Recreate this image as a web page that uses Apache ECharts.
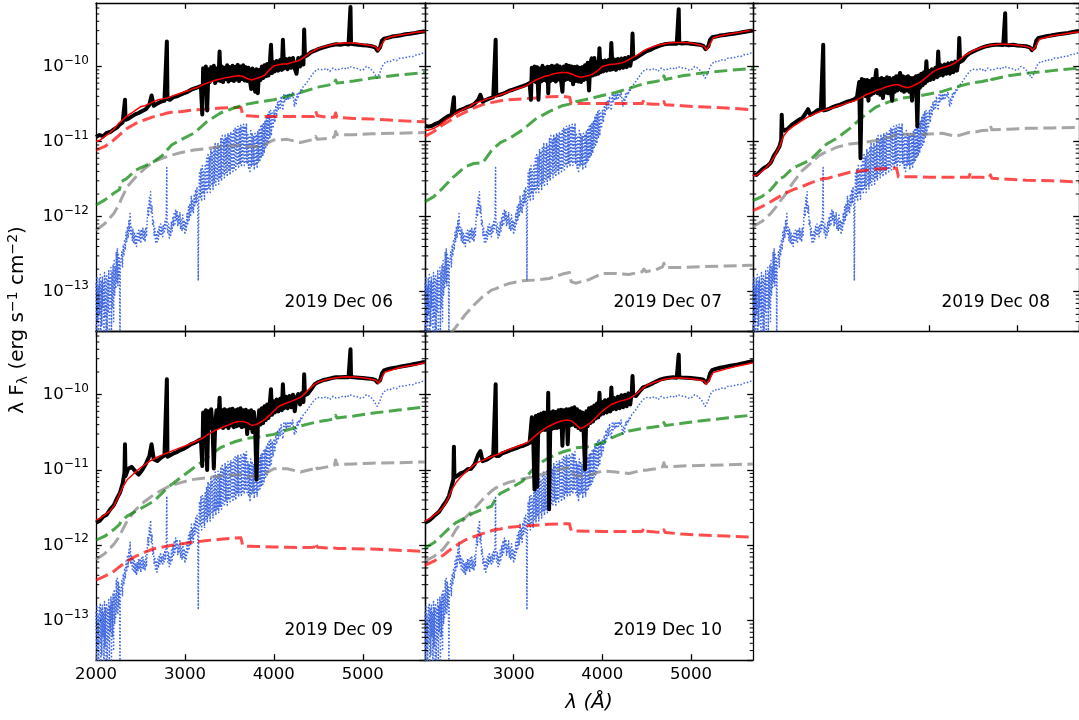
<!DOCTYPE html>
<html>
<head>
<meta charset="utf-8">
<title>SED fits, 2019 Dec 06-10</title>
<script src="https://cdn.jsdelivr.net/npm/echarts@6.0.0/dist/echarts.min.js"></script>
<style>
  html, body { margin: 0; padding: 0; background: #ffffff; }
  #chart { width: 1079px; height: 720px; }
</style>
</head>
<body>
<div id="chart"></div>
<script>
// ---------------------------------------------------------------------------
// Data: wavelength in Angstrom, lambda*F_lambda in erg s^-1 cm^-2
// ---------------------------------------------------------------------------
const nightLabels = ['2019 Dec 06', '2019 Dec 07', '2019 Dec 08', '2019 Dec 09', '2019 Dec 10'];

const xTickValues = [2000, 3000, 4000, 5000];
const yMajorTickValues = [1e-13, 1e-12, 1e-11, 1e-10];
const yMinorTickValues = [
  4e-14, 5e-14, 6e-14, 7e-14, 8e-14, 9e-14,
  2e-13, 3e-13, 4e-13, 5e-13, 6e-13, 7e-13, 8e-13, 9e-13,
  2e-12, 3e-12, 4e-12, 5e-12, 6e-12, 7e-12, 8e-12, 9e-12,
  2e-11, 3e-11, 4e-11, 5e-11, 6e-11, 7e-11, 8e-11, 9e-11,
  2e-10, 3e-10, 4e-10, 5e-10, 6e-10
];

// observed spectra share one wavelength grid
const specWave = [
  2000, 2040, 2080, 2120, 2160, 2200, 2240, 2270, 2300, 2320,
  2326, 2332, 2360, 2400, 2440, 2480, 2520, 2560, 2600, 2625,
  2650, 2690, 2730, 2770, 2790, 2797, 2804, 2830, 2870, 2910,
  2950, 2990, 3030, 3070, 3110, 3150, 3180, 3195, 3205, 3220,
  3235, 3250, 3265, 3280, 3295, 3310, 3325, 3340, 3355, 3370,
  3383, 3390, 3400, 3415, 3430, 3445, 3460, 3475, 3490, 3505,
  3520, 3535, 3550, 3565, 3580, 3595, 3610, 3625, 3640, 3655,
  3670, 3685, 3700, 3715, 3730, 3745, 3760, 3775, 3790, 3805,
  3820, 3835, 3850, 3865, 3880, 3895, 3910, 3925, 3940, 3955,
  3968, 3980, 3995, 4010, 4030, 4050, 4070, 4090, 4102, 4115,
  4135, 4155, 4175, 4195, 4215, 4235, 4255, 4275, 4295, 4315,
  4333, 4341, 4350, 4380, 4420, 4460, 4500, 4550, 4600, 4650,
  4700, 4750, 4800, 4840, 4856, 4862, 4868, 4900, 4950, 5000,
  5050, 5100, 5140, 5165, 5180, 5195, 5215, 5240, 5280, 5330,
  5380, 5430, 5480, 5530, 5580, 5630, 5680, 5700
];

const obsDec06 = [
  1.15e-11, 1.22e-11, 1.18e-11, 1.3e-11, 1.34e-11, 1.45e-11, 1.55e-11, 1.7e-11, 1.8e-11, 1.9e-11,
  3.6e-11, 1.95e-11, 2.0e-11, 2.15e-11, 2.3e-11, 2.4e-11, 2.55e-11, 2.7e-11, 3.1e-11, 4.1e-11,
  3.0e-11, 3.2e-11, 3.4e-11, 3.5e-11, 3.6e-11, 2.15e-10, 3.7e-11, 3.6e-11, 3.9e-11, 4.0e-11,
  4.2e-11, 4.4e-11, 4.6e-11, 4.9e-11, 5.1e-11, 5.3e-11, 5.5e-11, 2.3e-11, 9.5e-11, 6.4e-11,
  1.0e-10, 2.6e-11, 9.2e-11, 6.2e-11, 9.8e-11, 6.6e-11, 1.02e-10, 6.0e-11, 9.4e-11, 6.5e-11,
  1.0e-10, 1.58e-10, 6.4e-11, 1.0e-10, 6.2e-11, 9.6e-11, 6.8e-11, 1.04e-10, 6.3e-11, 9.8e-11,
  6.6e-11, 1.02e-10, 6.4e-11, 9.9e-11, 6.7e-11, 1.05e-10, 6.4e-11, 1.0e-10, 6.8e-11, 1.04e-10,
  6.5e-11, 9.8e-11, 6.4e-11, 9.6e-11, 6.6e-11, 5.0e-11, 9.4e-11, 6.2e-11, 4.6e-11, 9.2e-11,
  4.4e-11, 9.0e-11, 6.6e-11, 1.0e-10, 7.0e-11, 1.04e-10, 7.4e-11, 1.08e-10, 7.6e-11, 1.1e-10,
  1.94e-10, 8.2e-11, 1.15e-10, 8.6e-11, 1.18e-10, 8.8e-11, 1.22e-10, 9.0e-11, 2.27e-10, 9.4e-11,
  1.26e-10, 9.2e-11, 1.28e-10, 9.6e-11, 1.3e-10, 9.4e-11, 8.0e-11, 1.3e-10, 1.0e-10, 1.34e-10,
  1.06e-10, 3.1e-10, 1.35e-10, 1.42e-10, 1.55e-10, 1.62e-10, 1.7e-10, 1.78e-10, 1.85e-10, 1.92e-10,
  1.98e-10, 1.95e-10, 2.0e-10, 1.96e-10, 2.0e-10, 6.2e-10, 2.0e-10, 1.97e-10, 1.95e-10, 1.92e-10,
  1.9e-10, 1.86e-10, 1.8e-10, 1.62e-10, 1.55e-10, 1.8e-10, 2.2e-10, 2.35e-10, 2.4e-10, 2.5e-10,
  2.55e-10, 2.6e-10, 2.68e-10, 2.72e-10, 2.78e-10, 2.85e-10, 2.92e-10, 2.95e-10
];

const obsDec07 = [
  1.62e-11, 1.58e-11, 1.62e-11, 1.72e-11, 1.8e-11, 1.95e-11, 2.1e-11, 2.2e-11, 2.27e-11, 2.4e-11,
  3.9e-11, 2.4e-11, 2.5e-11, 2.65e-11, 2.75e-11, 2.9e-11, 3.0e-11, 3.2e-11, 3.6e-11, 4.2e-11,
  3.4e-11, 3.6e-11, 3.75e-11, 3.9e-11, 3.9e-11, 2.27e-10, 4.1e-11, 4.15e-11, 4.3e-11, 4.5e-11,
  4.75e-11, 4.9e-11, 5.1e-11, 5.3e-11, 5.5e-11, 5.75e-11, 6.0e-11, 3.6e-11, 9.6e-11, 6.4e-11,
  1.0e-10, 6.2e-11, 9.8e-11, 3.6e-11, 9.4e-11, 6.3e-11, 1.02e-10, 6.6e-11, 9.6e-11, 6.4e-11,
  9.9e-11, 4.4e-11, 9.8e-11, 6.4e-11, 1.02e-10, 6.6e-11, 1.0e-10, 6.3e-11, 1.04e-10, 6.7e-11,
  1.0e-10, 6.5e-11, 4.6e-11, 1.0e-10, 6.6e-11, 1.05e-10, 6.8e-11, 1.02e-10, 6.6e-11, 1.0e-10,
  5.8e-11, 9.8e-11, 6.4e-11, 1.0e-10, 6.3e-11, 9.6e-11, 6.2e-11, 9.8e-11, 6.6e-11, 1.04e-10,
  6.8e-11, 1.12e-10, 4.8e-11, 1.1e-10, 1.28e-10, 7.6e-11, 1.3e-10, 7.8e-11, 1.15e-10, 8.0e-11,
  1.75e-10, 8.4e-11, 1.18e-10, 8.6e-11, 1.2e-10, 8.8e-11, 1.22e-10, 9.0e-11, 2.05e-10, 9.2e-11,
  1.24e-10, 9.0e-11, 1.26e-10, 9.4e-11, 1.28e-10, 9.6e-11, 1.3e-10, 9.8e-11, 1.34e-10, 1.02e-10,
  1.36e-10, 2.75e-10, 1.25e-10, 1.3e-10, 1.4e-10, 1.5e-10, 1.6e-10, 1.68e-10, 1.8e-10, 1.9e-10,
  1.97e-10, 2.0e-10, 2.02e-10, 2.0e-10, 2.05e-10, 5.8e-10, 2.05e-10, 2.02e-10, 2.05e-10, 2.0e-10,
  1.98e-10, 1.95e-10, 1.88e-10, 1.7e-10, 1.6e-10, 1.85e-10, 2.25e-10, 2.45e-10, 2.5e-10, 2.58e-10,
  2.62e-10, 2.68e-10, 2.72e-10, 2.78e-10, 2.85e-10, 2.92e-10, 2.98e-10, 3.0e-10
];

const obsDec08 = [
  3.7e-12, 3.6e-12, 4.0e-12, 4.4e-12, 4.7e-12, 5.2e-12, 6.6e-12, 7.4e-12, 8.6e-12, 1.05e-11,
  2.27e-11, 1.5e-11, 1.4e-11, 1.5e-11, 1.67e-11, 1.8e-11, 1.95e-11, 2.05e-11, 2.4e-11, 2.7e-11,
  2.27e-11, 2.4e-11, 2.6e-11, 2.7e-11, 2.65e-11, 1.94e-10, 2.6e-11, 2.65e-11, 2.75e-11, 2.9e-11,
  3.0e-11, 3.1e-11, 3.25e-11, 3.4e-11, 3.5e-11, 3.65e-11, 3.9e-11, 4.0e-11, 6.2e-11, 6.0e-12,
  6.8e-11, 4.2e-11, 6.6e-11, 4.0e-11, 6.6e-11, 3.5e-11, 6.4e-11, 4.2e-11, 6.8e-11, 4.4e-11,
  6.6e-11, 7.4e-11, 9.0e-11, 4.4e-11, 6.8e-11, 4.2e-11, 7.0e-11, 3.8e-11, 6.8e-11, 4.5e-11,
  7.2e-11, 4.4e-11, 7.0e-11, 4.6e-11, 3.5e-11, 7.0e-11, 4.6e-11, 7.4e-11, 4.8e-11, 7.2e-11,
  8.2e-11, 4.8e-11, 7.4e-11, 4.6e-11, 7.2e-11, 4.8e-11, 7.4e-11, 4.6e-11, 7.0e-11, 3.5e-11,
  7.0e-11, 4.8e-11, 7.4e-11, 1.6e-11, 7.6e-11, 5.2e-11, 8.0e-11, 5.6e-11, 8.4e-11, 6.0e-11,
  1.17e-10, 6.4e-11, 8.8e-11, 6.6e-11, 9.2e-11, 6.8e-11, 9.6e-11, 7.2e-11, 1.58e-10, 7.6e-11,
  1.04e-10, 7.6e-11, 1.06e-10, 8.0e-11, 1.1e-10, 8.0e-11, 1.12e-10, 8.4e-11, 1.16e-10, 8.8e-11,
  1.2e-10, 2.4e-10, 1.15e-10, 1.2e-10, 1.38e-10, 1.5e-10, 1.58e-10, 1.68e-10, 1.78e-10, 1.86e-10,
  1.92e-10, 1.95e-10, 1.95e-10, 1.93e-10, 1.95e-10, 5.1e-10, 1.95e-10, 1.92e-10, 1.94e-10, 1.9e-10,
  1.88e-10, 1.86e-10, 1.8e-10, 1.65e-10, 1.58e-10, 1.78e-10, 2.2e-10, 2.4e-10, 2.45e-10, 2.52e-10,
  2.58e-10, 2.65e-10, 2.7e-10, 2.75e-10, 2.8e-10, 2.88e-10, 2.95e-10, 2.98e-10
];

const obsDec09 = [
  2.0e-12, 2.1e-12, 2.4e-12, 2.55e-12, 3.0e-12, 3.4e-12, 4.3e-12, 5.0e-12, 6.6e-12, 9.2e-12,
  2.2e-11, 8.3e-12, 1.03e-11, 1.1e-11, 9.7e-12, 8.7e-12, 1.0e-11, 1.2e-11, 1.53e-11, 2.2e-11,
  1.38e-11, 1.32e-11, 1.45e-11, 1.56e-11, 1.56e-11, 1.6e-10, 1.5e-11, 1.56e-11, 1.66e-11, 1.73e-11,
  1.84e-11, 1.92e-11, 2.05e-11, 2.2e-11, 2.3e-11, 2.45e-11, 2.55e-11, 1.13e-11, 5.8e-11, 3.6e-11,
  6.2e-11, 1.0e-11, 6.0e-11, 3.6e-11, 6.4e-11, 3.8e-11, 1.05e-11, 3.8e-11, 6.2e-11, 3.7e-11,
  6.4e-11, 9.1e-11, 3.8e-11, 6.2e-11, 3.6e-11, 6.4e-11, 3.8e-11, 6.2e-11, 3.6e-11, 6.4e-11,
  3.9e-11, 6.5e-11, 3.7e-11, 6.2e-11, 3.8e-11, 6.4e-11, 3.9e-11, 6.6e-11, 3.7e-11, 6.2e-11,
  3.8e-11, 6.3e-11, 3.0e-11, 6.0e-11, 3.6e-11, 6.2e-11, 3.2e-11, 5.9e-11, 3.6e-11, 7.5e-12,
  3.8e-11, 6.2e-11, 4.0e-11, 6.6e-11, 4.2e-11, 7.0e-11, 4.6e-11, 7.4e-11, 4.9e-11, 7.8e-11,
  1.18e-10, 5.4e-11, 8.2e-11, 5.8e-11, 8.6e-11, 6.0e-11, 8.8e-11, 6.2e-11, 1.37e-10, 6.6e-11,
  9.4e-11, 6.6e-11, 9.6e-11, 6.8e-11, 1.0e-10, 6.0e-11, 9.2e-11, 1.02e-10, 7.4e-11, 1.05e-10,
  8.0e-11, 1.86e-10, 9.8e-11, 1.02e-10, 1.18e-10, 1.38e-10, 1.47e-10, 1.55e-10, 1.6e-10, 1.66e-10,
  1.7e-10, 1.7e-10, 1.72e-10, 1.7e-10, 1.72e-10, 4.0e-10, 1.72e-10, 1.7e-10, 1.68e-10, 1.66e-10,
  1.64e-10, 1.62e-10, 1.57e-10, 1.45e-10, 1.38e-10, 1.55e-10, 1.9e-10, 2.1e-10, 2.18e-10, 2.25e-10,
  2.3e-10, 2.36e-10, 2.42e-10, 2.48e-10, 2.55e-10, 2.62e-10, 2.7e-10, 2.72e-10
];

const obsDec10 = [
  2.0e-12, 2.1e-12, 2.3e-12, 2.55e-12, 2.8e-12, 3.3e-12, 3.85e-12, 4.5e-12, 6.1e-12, 7.5e-12,
  2.04e-11, 7.9e-12, 8.3e-12, 9.0e-12, 9.4e-12, 1.02e-11, 1.04e-11, 1.19e-11, 1.6e-11, 1.78e-11,
  1.31e-11, 1.36e-11, 1.45e-11, 1.56e-11, 1.56e-11, 1.37e-10, 1.53e-11, 1.53e-11, 1.66e-11, 1.73e-11,
  1.8e-11, 1.88e-11, 1.95e-11, 2.04e-11, 2.1e-11, 2.2e-11, 2.3e-11, 2.4e-11, 5.0e-11, 3.0e-11,
  5.5e-12, 5.2e-11, 6.0e-12, 5.4e-11, 3.2e-11, 5.6e-11, 3.4e-11, 5.8e-11, 3.4e-11, 5.8e-11,
  3.6e-11, 1.06e-10, 3.0e-12, 5.8e-11, 3.5e-11, 6.0e-11, 3.6e-11, 5.9e-11, 3.6e-11, 6.2e-11,
  3.7e-11, 6.3e-11, 2.1e-11, 6.2e-11, 3.8e-11, 6.4e-11, 2.2e-11, 6.4e-11, 3.9e-11, 6.6e-11,
  4.0e-11, 6.8e-11, 3.8e-11, 6.4e-11, 3.6e-11, 6.0e-11, 3.4e-11, 5.8e-11, 3.2e-11, 1.02e-11,
  6.0e-11, 3.8e-11, 6.6e-11, 4.2e-11, 6.8e-11, 4.4e-11, 7.2e-11, 4.8e-11, 7.6e-11, 5.0e-11,
  1.06e-10, 5.4e-11, 8.0e-11, 5.6e-11, 8.4e-11, 5.8e-11, 8.6e-11, 6.0e-11, 1.24e-10, 6.4e-11,
  9.0e-11, 6.4e-11, 9.4e-11, 6.6e-11, 9.8e-11, 6.8e-11, 1.0e-10, 7.0e-11, 1.04e-10, 7.4e-11,
  1.08e-10, 1.77e-10, 9.8e-11, 9.6e-11, 1.1e-10, 1.25e-10, 1.3e-10, 1.38e-10, 1.48e-10, 1.58e-10,
  1.64e-10, 1.68e-10, 1.7e-10, 1.68e-10, 1.7e-10, 3.4e-10, 1.7e-10, 1.69e-10, 1.68e-10, 1.66e-10,
  1.64e-10, 1.62e-10, 1.58e-10, 1.45e-10, 1.4e-10, 1.55e-10, 1.9e-10, 2.12e-10, 2.2e-10, 2.28e-10,
  2.34e-10, 2.4e-10, 2.46e-10, 2.52e-10, 2.6e-10, 2.68e-10, 2.76e-10, 2.8e-10
];

// total model fluxes share one wavelength grid
const modelWave = [
  2000, 2050, 2100, 2150, 2200, 2250, 2300, 2350, 2400, 2450,
  2500, 2550, 2600, 2650, 2700, 2750, 2800, 2850, 2900, 2950,
  3000, 3050, 3100, 3150, 3200, 3250, 3300, 3350, 3400, 3450,
  3500, 3550, 3600, 3650, 3700, 3750, 3800, 3850, 3900, 3950,
  4000, 4050, 4100, 4150, 4200, 4250, 4300, 4350, 4400, 4450,
  4500, 4600, 4700, 4800, 4900, 5000, 5100, 5150, 5175, 5200,
  5250, 5300, 5400, 5500, 5600, 5700
];

const modelDec06 = [
  1.0e-11, 1.05e-11, 1.17e-11, 1.29e-11, 1.46e-11, 1.72e-11, 1.95e-11, 2.2e-11, 2.4e-11, 2.65e-11,
  2.9e-11, 3.0e-11, 3.2e-11, 3.4e-11, 3.6e-11, 3.7e-11, 3.8e-11, 4.0e-11, 4.2e-11, 4.4e-11,
  4.65e-11, 4.8e-11, 5.1e-11, 5.3e-11, 5.7e-11, 6.0e-11, 6.3e-11, 6.6e-11, 6.8e-11, 7.05e-11,
  7.2e-11, 7.4e-11, 7.5e-11, 7.4e-11, 6.9e-11, 6.6e-11, 6.9e-11, 7.2e-11, 7.7e-11, 9.0e-11,
  1.02e-10, 1.05e-10, 1.08e-10, 1.08e-10, 1.13e-10, 1.17e-10, 1.23e-10, 1.36e-10, 1.5e-10, 1.63e-10,
  1.74e-10, 1.89e-10, 2.0e-10, 2.05e-10, 2.05e-10, 1.98e-10, 1.89e-10, 1.81e-10, 1.63e-10, 1.85e-10,
  2.3e-10, 2.45e-10, 2.6e-10, 2.7e-10, 2.85e-10, 2.93e-10
];

const modelDec07 = [
  1.4e-11, 1.43e-11, 1.5e-11, 1.62e-11, 1.8e-11, 1.99e-11, 2.15e-11, 2.4e-11, 2.55e-11, 2.75e-11,
  2.9e-11, 3.2e-11, 3.35e-11, 3.5e-11, 3.7e-11, 3.8e-11, 4.0e-11, 4.2e-11, 4.4e-11, 4.65e-11,
  4.9e-11, 5.1e-11, 5.3e-11, 5.6e-11, 6.1e-11, 6.6e-11, 7.0e-11, 7.4e-11, 7.6e-11, 8.0e-11,
  8.2e-11, 8.3e-11, 8.3e-11, 8.0e-11, 7.5e-11, 7.2e-11, 7.35e-11, 7.6e-11, 8.0e-11, 8.8e-11,
  1.0e-10, 1.04e-10, 1.07e-10, 1.08e-10, 1.1e-10, 1.15e-10, 1.23e-10, 1.33e-10, 1.43e-10, 1.57e-10,
  1.7e-10, 1.89e-10, 2.0e-10, 2.09e-10, 2.09e-10, 2.05e-10, 1.93e-10, 1.85e-10, 1.67e-10, 1.85e-10,
  2.39e-10, 2.5e-10, 2.67e-10, 2.78e-10, 2.93e-10, 3.05e-10
];

const modelDec08 = [
  3.5e-12, 3.6e-12, 4.0e-12, 4.5e-12, 5.2e-12, 6.6e-12, 8.5e-12, 1.2e-11, 1.42e-11, 1.58e-11,
  1.72e-11, 1.88e-11, 2.05e-11, 2.2e-11, 2.35e-11, 2.48e-11, 2.6e-11, 2.7e-11, 2.8e-11, 2.95e-11,
  3.05e-11, 3.2e-11, 3.35e-11, 3.5e-11, 3.7e-11, 4.0e-11, 4.3e-11, 4.5e-11, 4.8e-11, 5.0e-11,
  5.3e-11, 5.5e-11, 5.7e-11, 5.7e-11, 5.4e-11, 5.2e-11, 5.4e-11, 5.8e-11, 6.2e-11, 6.9e-11,
  7.7e-11, 8.6e-11, 9.2e-11, 9.6e-11, 1.0e-10, 1.05e-10, 1.13e-10, 1.25e-10, 1.39e-10, 1.5e-10,
  1.63e-10, 1.8e-10, 1.93e-10, 1.97e-10, 1.97e-10, 1.93e-10, 1.85e-10, 1.77e-10, 1.63e-10, 1.8e-10,
  2.3e-10, 2.4e-10, 2.57e-10, 2.67e-10, 2.78e-10, 2.9e-10
];

const modelDec09 = [
  2.16e-12, 2.3e-12, 2.55e-12, 2.8e-12, 3.3e-12, 4.4e-12, 5.9e-12, 7.4e-12, 8.4e-12, 9.5e-12,
  1.07e-11, 1.18e-11, 1.3e-11, 1.4e-11, 1.5e-11, 1.6e-11, 1.68e-11, 1.78e-11, 1.88e-11, 1.98e-11,
  2.08e-11, 2.2e-11, 2.33e-11, 2.48e-11, 2.65e-11, 2.9e-11, 3.15e-11, 3.4e-11, 3.6e-11, 3.8e-11,
  4.0e-11, 4.25e-11, 4.4e-11, 4.4e-11, 4.25e-11, 3.9e-11, 4.0e-11, 4.3e-11, 4.7e-11, 5.3e-11,
  6.06e-11, 6.9e-11, 7.4e-11, 7.8e-11, 8.2e-11, 8.7e-11, 9.2e-11, 1.04e-10, 1.2e-10, 1.36e-10,
  1.47e-10, 1.6e-10, 1.68e-10, 1.73e-10, 1.72e-10, 1.68e-10, 1.6e-10, 1.55e-10, 1.41e-10, 1.57e-10,
  2.0e-10, 2.08e-10, 2.26e-10, 2.4e-10, 2.5e-10, 2.66e-10
];

const modelDec10 = [
  2.1e-12, 2.25e-12, 2.5e-12, 2.75e-12, 3.15e-12, 3.9e-12, 5.4e-12, 6.8e-12, 8.0e-12, 9.2e-12,
  1.04e-11, 1.17e-11, 1.27e-11, 1.34e-11, 1.42e-11, 1.5e-11, 1.58e-11, 1.67e-11, 1.77e-11, 1.88e-11,
  1.97e-11, 2.07e-11, 2.18e-11, 2.3e-11, 2.55e-11, 2.88e-11, 3.2e-11, 3.54e-11, 3.83e-11, 4.07e-11,
  4.33e-11, 4.5e-11, 4.6e-11, 4.5e-11, 4.04e-11, 3.54e-11, 3.75e-11, 4.1e-11, 4.6e-11, 5.3e-11,
  6.06e-11, 6.7e-11, 7.4e-11, 7.8e-11, 8.2e-11, 8.5e-11, 8.85e-11, 9.6e-11, 1.06e-10, 1.2e-10,
  1.33e-10, 1.47e-10, 1.6e-10, 1.66e-10, 1.66e-10, 1.63e-10, 1.57e-10, 1.52e-10, 1.37e-10, 1.52e-10,
  1.96e-10, 2.04e-10, 2.2e-10, 2.36e-10, 2.5e-10, 2.66e-10
];

// fit components (green dashed = comp1, red dashed = comp2, grey dashed = comp3)
const compWave = [
  2000, 2100, 2200, 2265, 2280, 2350, 2450, 2550, 2650, 2750,
  2800, 2850, 2950, 3100, 3250, 3400, 3550, 3630, 3650, 3700,
  3850, 4000, 4150, 4300, 4450, 4470, 4490, 4600, 4680, 4695,
  4710, 4900, 5100, 5400, 5700
];

const comp1Dec06 = [
  1.43e-12, 1.67e-12, 2.05e-12, 2.3e-12, 2.9e-12, 3.25e-12, 4.2e-12, 4.75e-12, 5.4e-12, 6.6e-12,
  7.7e-12, 9.0e-12, 1.05e-11, 1.29e-11, 1.85e-11, 2.4e-11, 2.8e-11, 3.0e-11, 3.05e-11, 3.15e-11,
  3.4e-11, 3.6e-11, 4.0e-11, 4.5e-11, 5.1e-11, 5.2e-11, 5.3e-11, 5.6e-11, 5.9e-11, 6.6e-11,
  6.0e-11, 6.4e-11, 7.0e-11, 7.7e-11, 8.3e-11
];
const comp2Dec06 = [
  7.7e-12, 8.6e-12, 1.05e-11, 1.23e-11, 1.29e-11, 1.5e-11, 1.75e-11, 1.95e-11, 2.15e-11, 2.3e-11,
  2.4e-11, 2.45e-11, 2.5e-11, 2.65e-11, 2.7e-11, 2.8e-11, 2.85e-11, 2.85e-11, 2.27e-11, 2.2e-11,
  2.15e-11, 2.15e-11, 2.15e-11, 2.15e-11, 2.15e-11, 2.55e-11, 2.2e-11, 2.1e-11, 2.1e-11, 2.4e-11,
  2.1e-11, 2.03e-11, 2.0e-11, 1.9e-11, 1.83e-11
];
const comp3Dec06 = [
  6.6e-13, 8.1e-13, 1.1e-12, 1.5e-12, 1.67e-12, 2.5e-12, 3.4e-12, 4.4e-12, 5.4e-12, 6.0e-12,
  6.3e-12, 6.6e-12, 7.1e-12, 7.7e-12, 8.1e-12, 8.6e-12, 8.8e-12, 9.0e-12, 8.6e-12, 8.6e-12,
  8.6e-12, 1.05e-11, 1.07e-11, 9.7e-12, 1.07e-11, 1.17e-11, 1.07e-11, 1.1e-11, 1.15e-11, 1.36e-11,
  1.23e-11, 1.23e-11, 1.27e-11, 1.29e-11, 1.32e-11
];

const comp1Dec07 = [
  1.58e-12, 1.85e-12, 2.4e-12, 2.9e-12, 3.1e-12, 3.6e-12, 4.6e-12, 5.1e-12, 5.2e-12, 7.6e-12,
  8.6e-12, 9.7e-12, 1.1e-11, 1.43e-11, 2.0e-11, 2.5e-11, 3.0e-11, 3.15e-11, 3.2e-11, 3.4e-11,
  3.7e-11, 4.1e-11, 4.5e-11, 5.1e-11, 5.8e-11, 5.9e-11, 6.0e-11, 6.3e-11, 6.6e-11, 7.5e-11,
  6.7e-11, 7.5e-11, 8.1e-11, 8.8e-11, 9.4e-11
];
const comp2Dec07 = [
  1.17e-11, 1.36e-11, 1.67e-11, 1.85e-11, 1.9e-11, 2.15e-11, 2.45e-11, 2.8e-11, 3.1e-11, 3.3e-11,
  3.4e-11, 3.5e-11, 3.6e-11, 3.7e-11, 3.8e-11, 3.95e-11, 4.0e-11, 3.9e-11, 3.2e-11, 3.2e-11,
  3.2e-11, 3.2e-11, 3.2e-11, 3.2e-11, 3.2e-11, 3.6e-11, 3.2e-11, 3.15e-11, 3.12e-11, 3.4e-11,
  3.1e-11, 3.0e-11, 2.9e-11, 2.8e-11, 2.65e-11
];
const comp3Dec07 = [
  6e-15, 1.1e-14, 1.9e-14, 2.5e-14, 2.7e-14, 3.4e-14, 4.9e-14, 6.6e-14, 8.6e-14, 1.05e-13,
  1.1e-13, 1.17e-13, 1.29e-13, 1.4e-13, 1.43e-13, 1.5e-13, 1.72e-13, 1.8e-13, 1.36e-13, 1.3e-13,
  1.45e-13, 1.75e-13, 1.75e-13, 1.7e-13, 1.85e-13, 2.0e-13, 1.85e-13, 1.95e-13, 2.15e-13, 2.4e-13,
  2.1e-13, 2.1e-13, 2.15e-13, 2.2e-13, 2.25e-13
];

const comp1Dec08 = [
  1.63e-12, 1.85e-12, 2.27e-12, 2.8e-12, 3.1e-12, 3.4e-12, 4.4e-12, 5.0e-12, 5.7e-12, 7.4e-12,
  8.6e-12, 9.5e-12, 1.1e-11, 1.5e-11, 2.15e-11, 2.9e-11, 3.4e-11, 3.6e-11, 3.7e-11, 3.8e-11,
  4.0e-11, 4.3e-11, 4.65e-11, 5.3e-11, 5.9e-11, 6.0e-11, 6.05e-11, 6.3e-11, 6.6e-11, 7.2e-11,
  6.7e-11, 7.5e-11, 8.1e-11, 8.8e-11, 9.5e-11
];
const comp2Dec08 = [
  1.2e-12, 1.36e-12, 1.58e-12, 1.75e-12, 1.8e-12, 2.0e-12, 2.27e-12, 2.5e-12, 2.8e-12, 3.1e-12,
  3.2e-12, 3.25e-12, 3.5e-12, 3.9e-12, 4.1e-12, 4.3e-12, 4.4e-12, 4.4e-12, 3.4e-12, 3.4e-12,
  3.4e-12, 3.35e-12, 3.35e-12, 3.35e-12, 3.35e-12, 3.9e-12, 3.35e-12, 3.35e-12, 3.3e-12, 3.6e-12,
  3.25e-12, 3.15e-12, 3.05e-12, 3.0e-12, 2.9e-12
];
const comp3Dec08 = [
  7.4e-13, 8.6e-13, 1.1e-12, 1.36e-12, 1.47e-12, 1.85e-12, 2.8e-12, 4.0e-12, 5.1e-12, 6.5e-12,
  7.0e-12, 7.4e-12, 8.4e-12, 9.3e-12, 9.7e-12, 1.03e-11, 1.14e-11, 1.26e-11, 1.29e-11, 1.26e-11,
  1.23e-11, 1.26e-11, 1.29e-11, 1.17e-11, 1.32e-11, 1.36e-11, 1.32e-11, 1.4e-11, 1.42e-11, 1.62e-11,
  1.44e-11, 1.46e-11, 1.5e-11, 1.52e-11, 1.54e-11
];

const comp1Dec09 = [
  1.17e-12, 1.32e-12, 1.62e-12, 1.89e-12, 2.1e-12, 2.44e-12, 2.85e-12, 3.3e-12, 3.85e-12, 5.0e-12,
  5.8e-12, 6.4e-12, 7.9e-12, 1.07e-11, 1.46e-11, 1.98e-11, 2.35e-11, 2.5e-11, 2.55e-11, 2.63e-11,
  2.77e-11, 2.97e-11, 3.39e-11, 3.84e-11, 4.25e-11, 4.3e-11, 4.35e-11, 4.56e-11, 4.8e-11, 5.3e-11,
  4.9e-11, 5.2e-11, 5.65e-11, 6.25e-11, 6.85e-11
];
const comp2Dec09 = [
  3.45e-13, 3.9e-13, 4.5e-13, 5.2e-13, 5.4e-13, 6.15e-13, 7.2e-13, 8.1e-13, 9.0e-13, 9.5e-13,
  9.7e-13, 1.0e-12, 1.04e-12, 1.1e-12, 1.16e-12, 1.2e-12, 1.25e-12, 1.26e-12, 9.9e-13, 9.7e-13,
  9.6e-13, 9.5e-13, 9.4e-13, 9.3e-13, 9.4e-13, 1.08e-12, 9.4e-13, 9.2e-13, 9.2e-13, 9.7e-13,
  9.1e-13, 9.0e-13, 8.9e-13, 8.6e-13, 8.3e-13
];
const comp3Dec09 = [
  6.5e-13, 7.8e-13, 1.03e-12, 1.32e-12, 1.45e-12, 2.1e-12, 3.0e-12, 3.85e-12, 4.7e-12, 5.5e-12,
  5.9e-12, 6.2e-12, 6.8e-12, 7.5e-12, 7.9e-12, 8.3e-12, 8.6e-12, 8.7e-12, 8.3e-12, 8.2e-12,
  8.3e-12, 1.04e-11, 1.04e-11, 9.4e-12, 1.04e-11, 1.13e-11, 1.04e-11, 1.1e-11, 1.15e-11, 1.36e-11,
  1.18e-11, 1.2e-11, 1.23e-11, 1.25e-11, 1.28e-11
];

const comp1Dec10 = [
  9.2e-13, 1.08e-12, 1.39e-12, 1.65e-12, 1.75e-12, 2.0e-12, 2.3e-12, 2.7e-12, 3.0e-12, 3.3e-12,
  4.2e-12, 4.9e-12, 5.6e-12, 7.1e-12, 1.13e-11, 1.46e-11, 1.73e-11, 1.84e-11, 1.88e-11, 1.97e-11,
  2.03e-11, 2.3e-11, 2.82e-11, 3.3e-11, 3.55e-11, 3.57e-11, 3.6e-11, 3.75e-11, 3.85e-11, 4.25e-11,
  3.9e-11, 4.16e-11, 4.47e-11, 4.9e-11, 5.37e-11
];
const comp2Dec10 = [
  5.4e-13, 6.15e-13, 7.3e-13, 8.4e-13, 8.8e-13, 9.9e-13, 1.17e-12, 1.3e-12, 1.43e-12, 1.56e-12,
  1.62e-12, 1.65e-12, 1.73e-12, 1.8e-12, 1.85e-12, 1.9e-12, 1.93e-12, 1.93e-12, 1.56e-12, 1.55e-12,
  1.54e-12, 1.53e-12, 1.53e-12, 1.53e-12, 1.53e-12, 1.7e-12, 1.54e-12, 1.5e-12, 1.48e-12, 1.6e-12,
  1.48e-12, 1.41e-12, 1.37e-12, 1.33e-12, 1.28e-12
];
const comp3Dec10 = [
  6.15e-13, 7.1e-13, 8.8e-13, 1.1e-12, 1.17e-12, 1.62e-12, 2.3e-12, 3.0e-12, 4.06e-12, 5.25e-12,
  5.8e-12, 6.2e-12, 6.9e-12, 7.6e-12, 8.3e-12, 9.4e-12, 1.04e-11, 1.08e-11, 9.7e-12, 8.3e-12,
  8.5e-12, 9.7e-12, 9.4e-12, 9.0e-12, 9.9e-12, 1.04e-11, 9.9e-12, 1.04e-11, 1.1e-11, 1.25e-11,
  1.1e-11, 1.13e-11, 1.15e-11, 1.17e-11, 1.2e-11
];

// stellar template (blue dotted), the same on every night: [wavelength, flux]
const starSpectrum = [
  [2000, 1.3e-13], [2006, 2.5e-14], [2012, 1.6e-13], [2018, 4e-14], [2024, 1.2e-13], [2030, 2e-14],
  [2036, 1.5e-13], [2042, 5e-14], [2048, 1.7e-13], [2054, 2.2e-14], [2060, 1.4e-13], [2066, 3.5e-14],
  [2072, 1.6e-13], [2078, 6e-14], [2084, 1.3e-13], [2090, 2e-14], [2096, 1.8e-13], [2102, 4.5e-14],
  [2108, 1.5e-13], [2114, 2.5e-14], [2120, 1.7e-13], [2126, 3e-14], [2132, 1.4e-13], [2138, 5.5e-14],
  [2144, 1.9e-13], [2150, 2.2e-14], [2156, 1.6e-13], [2162, 7e-14], [2168, 2.1e-13], [2174, 3e-14],
  [2180, 1.8e-13], [2186, 6e-14], [2192, 2.3e-13], [2198, 4e-14], [2204, 2.6e-13], [2210, 9e-14],
  [2216, 2.2e-13], [2222, 1.1e-13], [2228, 3.4e-13], [2234, 1.3e-13], [2240, 3.8e-13], [2246, 1.2e-13],
  [2252, 3.3e-13], [2258, 1.5e-13], [2264, 2.8e-13], [2270, 1.5e-14], [2274, 2.4e-13], [2282, 2.6e-13],
  [2290, 3.4e-13], [2298, 2.1e-13], [2306, 4.2e-13], [2314, 3.0e-13], [2322, 5.0e-13], [2330, 3.6e-13],
  [2338, 6.2e-13], [2346, 4.6e-13], [2354, 7.4e-13], [2362, 5.2e-13], [2370, 8.8e-13], [2378, 6.4e-13],
  [2384, 1.1e-12], [2392, 5.6e-13], [2400, 7.2e-13], [2408, 4.8e-13], [2416, 6.8e-13], [2424, 4.4e-13],
  [2432, 6.2e-13], [2440, 4.2e-13], [2448, 5.8e-13], [2456, 4.0e-13], [2464, 6.0e-13], [2472, 4.6e-13],
  [2480, 6.6e-13], [2488, 4.8e-13], [2496, 6.4e-13], [2504, 4.4e-13], [2512, 6.8e-13], [2520, 5.0e-13],
  [2528, 7.0e-13], [2536, 4.8e-13], [2544, 6.4e-13], [2552, 4.6e-13], [2560, 7.2e-13], [2568, 5.4e-13],
  [2576, 9.0e-13], [2584, 1.3e-12], [2592, 1.0e-12], [2600, 1.8e-12], [2608, 1.3e-12], [2614, 2.15e-12],
  [2622, 1.1e-12], [2630, 1.4e-12], [2638, 7.6e-13], [2646, 9.0e-13], [2654, 5.6e-13], [2662, 7.0e-13],
  [2670, 4.6e-13], [2678, 6.0e-13], [2686, 4.4e-13], [2694, 6.6e-13], [2702, 5.0e-13], [2710, 7.4e-13],
  [2718, 5.6e-13], [2726, 8.0e-13], [2734, 5.8e-13], [2742, 7.2e-13], [2750, 5.4e-13], [2758, 7.6e-13],
  [2766, 6.0e-13], [2774, 8.6e-13], [2782, 6.6e-13], [2790, 1.05e-12], [2796, 4.5e-12], [2800, 8.2e-13],
  [2808, 6.0e-13], [2816, 8.0e-13], [2824, 5.2e-13], [2832, 7.0e-13], [2840, 5.6e-13], [2848, 8.6e-13],
  [2856, 6.4e-13], [2864, 1.0e-12], [2872, 7.4e-13], [2880, 1.15e-12], [2888, 8.0e-13], [2896, 1.25e-12],
  [2904, 8.8e-13], [2912, 1.2e-12], [2920, 7.4e-13], [2928, 1.05e-12], [2936, 7.8e-13], [2944, 1.15e-12],
  [2952, 6.8e-13], [2960, 9.5e-13], [2968, 6.4e-13], [2976, 1.05e-12], [2984, 7.0e-13], [2992, 9.0e-13],
  [3000, 5.8e-13], [3008, 8.6e-13], [3016, 6.6e-13], [3024, 1.1e-12], [3032, 8.0e-13], [3040, 1.35e-12],
  [3048, 9.0e-13], [3056, 1.5e-12], [3064, 1.0e-12], [3072, 1.9e-12], [3080, 1.2e-12], [3088, 1.7e-12],
  [3096, 1.1e-12], [3104, 2.0e-12], [3112, 1.4e-12], [3120, 2.3e-12], [3128, 1.5e-12], [3136, 2.5e-12],
  [3144, 1.6e-12], [3150, 1.4e-13], [3156, 1.7e-12], [3164, 3.8e-12], [3172, 1.8e-12], [3180, 4.4e-12],
  [3188, 1.6e-12], [3196, 4.8e-12], [3204, 2.0e-12], [3212, 4.2e-12], [3220, 1.7e-12], [3228, 5.0e-12],
  [3236, 2.2e-12], [3244, 6.0e-12], [3252, 2.0e-12], [3260, 7.0e-12], [3268, 2.4e-12], [3276, 6.4e-12],
  [3284, 2.1e-12], [3292, 8.0e-12], [3300, 2.6e-12], [3308, 7.4e-12], [3316, 2.3e-12], [3324, 8.6e-12],
  [3332, 2.8e-12], [3340, 9.4e-12], [3348, 2.5e-12], [3356, 8.2e-12], [3364, 3.0e-12], [3372, 9.6e-12],
  [3380, 2.7e-12], [3388, 9.0e-12], [3396, 3.2e-12], [3404, 1.1e-11], [3412, 3.0e-12], [3420, 1.2e-11],
  [3428, 3.6e-12], [3436, 1.05e-11], [3444, 3.3e-12], [3452, 1.25e-11], [3460, 3.8e-12], [3468, 1.15e-11],
  [3476, 3.4e-12], [3484, 1.3e-11], [3492, 4.0e-12], [3500, 1.2e-11], [3508, 3.6e-12], [3516, 1.35e-11],
  [3524, 4.2e-12], [3532, 1.25e-11], [3540, 3.8e-12], [3548, 1.4e-11], [3556, 4.4e-12], [3564, 1.5e-11],
  [3572, 4.0e-12], [3580, 1.45e-11], [3588, 4.8e-12], [3596, 1.6e-11], [3604, 4.4e-12], [3612, 1.5e-11],
  [3620, 5.0e-12], [3628, 1.65e-11], [3636, 4.6e-12], [3644, 1.55e-11], [3652, 5.2e-12], [3660, 1.7e-11],
  [3668, 4.8e-12], [3676, 1.6e-11], [3684, 5.4e-12], [3692, 1.75e-11], [3700, 5.0e-12], [3708, 1.3e-11],
  [3716, 4.4e-12], [3724, 1.2e-11], [3732, 3.8e-12], [3740, 1.4e-11], [3748, 4.6e-12], [3756, 1.3e-11],
  [3764, 5.0e-12], [3772, 1.2e-11], [3780, 4.2e-12], [3788, 1.35e-11], [3796, 4.8e-12], [3804, 1.25e-11],
  [3812, 4.4e-12], [3820, 1.4e-11], [3828, 5.2e-12], [3836, 1.5e-11], [3844, 5.6e-12], [3852, 1.6e-11],
  [3860, 6.0e-12], [3868, 1.7e-11], [3876, 6.4e-12], [3884, 1.8e-11], [3892, 7.0e-12], [3900, 1.9e-11],
  [3908, 8.0e-12], [3916, 2.1e-11], [3924, 8.6e-12], [3932, 2.3e-11], [3940, 9.4e-12], [3948, 2.5e-11],
  [3956, 1.1e-11], [3964, 2.6e-11], [3972, 1.2e-11], [3982, 2.4e-11], [3992, 1.5e-11], [4002, 2.6e-11],
  [4012, 1.8e-11], [4022, 2.9e-11], [4032, 2.2e-11], [4042, 3.4e-11], [4052, 2.6e-11], [4062, 3.6e-11],
  [4072, 2.8e-11], [4082, 4.0e-11], [4092, 3.0e-11], [4102, 2.6e-11], [4112, 4.2e-11], [4122, 3.4e-11],
  [4132, 4.3e-11], [4142, 3.5e-11], [4152, 4.2e-11], [4162, 3.6e-11], [4172, 4.4e-11], [4182, 3.8e-11],
  [4192, 4.4e-11], [4202, 3.9e-11], [4212, 4.6e-11], [4222, 3.6e-11], [4232, 2.9e-11], [4242, 3.8e-11],
  [4252, 3.2e-11], [4262, 4.3e-11], [4272, 3.9e-11], [4282, 4.6e-11], [4292, 4.2e-11], [4302, 4.9e-11],
  [4312, 4.6e-11], [4322, 5.2e-11], [4332, 4.9e-11], [4342, 5.6e-11], [4352, 5.3e-11], [4367, 6.0e-11],
  [4385, 6.5e-11], [4404, 7.0e-11], [4425, 7.6e-11], [4442, 8.1e-11], [4460, 8.6e-11], [4479, 9.0e-11],
  [4510, 9.2e-11], [4554, 9.0e-11], [4590, 9.4e-11], [4629, 8.6e-11], [4666, 9.5e-11], [4700, 9.0e-11],
  [4741, 9.2e-11], [4790, 9.6e-11], [4820, 9.2e-11], [4854, 1.0e-10], [4890, 9.6e-11], [4929, 9.5e-11],
  [4970, 9.0e-11], [5003, 9.0e-11], [5041, 1.0e-10], [5078, 9.5e-11], [5116, 8.6e-11], [5140, 7.7e-11],
  [5160, 7.0e-11], [5172, 6.6e-11], [5191, 8.1e-11], [5210, 9.5e-11], [5228, 1.05e-10], [5266, 1.17e-10],
  [5300, 1.15e-10], [5341, 1.23e-10], [5380, 1.2e-10], [5415, 1.29e-10], [5460, 1.3e-10], [5500, 1.33e-10],
  [5528, 1.36e-10], [5560, 1.35e-10], [5603, 1.43e-10], [5640, 1.45e-10], [5678, 1.51e-10], [5700, 1.5e-10]
];

// ---------------------------------------------------------------------------
// Layout and styling
// ---------------------------------------------------------------------------
const X_MIN = 2000, X_MAX = 5700, X_STEP = 1000;
const Y_MIN = 3e-14, Y_MAX = 7e-10;
const FONT = 'DejaVu Sans';
const AXIS_W = 1.3;

const panels = [
  { left: 96,  top: 3,   width: 329, height: 328, yLabels: true,  xLabels: false, firstX: true },
  { left: 425, top: 3,   width: 328, height: 328, yLabels: false, xLabels: false, firstX: true },
  { left: 753, top: 3,   width: 329, height: 328, yLabels: false, xLabels: false, firstX: true },
  { left: 96,  top: 331, width: 329, height: 329, yLabels: true,  xLabels: true,  firstX: true },
  { left: 425, top: 331, width: 328, height: 329, yLabels: false, xLabels: true,  firstX: false }
];

const nights = [
  { label: nightLabels[0], obs: obsDec06, model: modelDec06, c1: comp1Dec06, c2: comp2Dec06, c3: comp3Dec06 },
  { label: nightLabels[1], obs: obsDec07, model: modelDec07, c1: comp1Dec07, c2: comp2Dec07, c3: comp3Dec07 },
  { label: nightLabels[2], obs: obsDec08, model: modelDec08, c1: comp1Dec08, c2: comp2Dec08, c3: comp3Dec08 },
  { label: nightLabels[3], obs: obsDec09, model: modelDec09, c1: comp1Dec09, c2: comp2Dec09, c3: comp3Dec09 },
  { label: nightLabels[4], obs: obsDec10, model: modelDec10, c1: comp1Dec10, c2: comp2Dec10, c3: comp3Dec10 }
];

const DASH = [13, 5.5];
const styles = {
  star:  { color: '#4169e1', width: 1.5, type: [1.5, 1.9], opacity: 1 },
  c3:    { color: '#808080', width: 3,   type: DASH, opacity: 0.7 },
  c2:    { color: '#ff0000', width: 3,   type: DASH, opacity: 0.7 },
  c1:    { color: '#008000', width: 3,   type: DASH, opacity: 0.7 },
  obs:   { color: '#000000', width: 4,   type: 'solid', opacity: 1 },
  model: { color: '#ff0000', width: 1.5, type: 'solid', opacity: 1 }
};

function zip(wave, flux) {
  return wave.map((w, i) => [w, flux[i]]);
}

function lineSeries(p, data, st) {
  return {
    type: 'line',
    xAxisIndex: 2 * p,
    yAxisIndex: 2 * p,
    data: data,
    showSymbol: false,
    symbol: 'none',
    clip: true,
    silent: true,
    animation: false,
    lineStyle: {
      color: st.color, width: st.width, type: st.type, opacity: st.opacity,
      cap: 'butt', join: 'round'
    }
  };
}

// short inward minor ticks on the left and right frame of each log axis
function renderMinorTick(params, api) {
  const v = api.value(1);
  const l = api.coord([X_MIN, v]);
  const r = api.coord([X_MAX, v]);
  const len = 3.3;
  const st = { stroke: '#000', lineWidth: 1 };
  return {
    type: 'group',
    children: [
      { type: 'line', shape: { x1: l[0], y1: l[1], x2: l[0] + len, y2: l[1] }, style: st },
      { type: 'line', shape: { x1: r[0], y1: r[1], x2: r[0] - len, y2: r[1] }, style: st }
    ]
  };
}

const supLabelRich = {
  b: { fontSize: 16.5, fontFamily: FONT, color: '#000', lineHeight: 24, verticalAlign: 'middle' },
  s: { fontSize: 12, fontFamily: FONT, color: '#000', lineHeight: 12, verticalAlign: 'top' }
};

function powerLabel(v) {
  const e = Math.round(Math.log10(v));
  return '{b|10}{s|' + (e < 0 ? '\u2212' + (-e) : String(e)) + '}';
}

const grids = [], xAxes = [], yAxes = [], series = [], graphics = [];

panels.forEach((pn, p) => {
  grids.push({ left: pn.left, top: pn.top, width: pn.width, height: pn.height, containLabel: false });

  const tickStyle = { show: true, inside: true, length: 5.8, lineStyle: { color: '#000', width: AXIS_W } };
  const lineStyle = { show: true, onZero: false, lineStyle: { color: '#000', width: AXIS_W } };

  xAxes.push({
    type: 'value', gridIndex: p, position: 'bottom',
    min: X_MIN, max: X_MAX, interval: X_STEP,
    axisLine: lineStyle, axisTick: tickStyle, splitLine: { show: false },
    axisLabel: {
      show: pn.xLabels, margin: 6, fontSize: 16.5, fontFamily: FONT, color: '#000',
      showMinLabel: pn.firstX, showMaxLabel: false,
      formatter: v => (xTickValues.indexOf(v) >= 0 ? String(v) : '')
    }
  });
  xAxes.push({
    type: 'value', gridIndex: p, position: 'top',
    min: X_MIN, max: X_MAX, interval: X_STEP,
    axisLine: lineStyle, axisTick: tickStyle, splitLine: { show: false },
    axisLabel: { show: false }
  });

  yAxes.push({
    type: 'log', logBase: 10, gridIndex: p, position: 'left',
    min: Y_MIN, max: Y_MAX,
    axisLine: lineStyle, axisTick: tickStyle, splitLine: { show: false },
    axisLabel: {
      show: pn.yLabels, margin: 7, showMinLabel: false, showMaxLabel: false,
      formatter: v => {
        const near = yMajorTickValues.find(t => Math.abs(Math.log10(v) - Math.log10(t)) < 1e-6);
        return near ? powerLabel(near) : '';
      },
      rich: supLabelRich
    }
  });
  yAxes.push({
    type: 'log', logBase: 10, gridIndex: p, position: 'right',
    min: Y_MIN, max: Y_MAX,
    axisLine: lineStyle, axisTick: tickStyle, splitLine: { show: false },
    axisLabel: { show: false }
  });

  const n = nights[p];
  series.push(lineSeries(p, starSpectrum, styles.star));
  series.push(lineSeries(p, zip(compWave, n.c3), styles.c3));
  series.push(lineSeries(p, zip(compWave, n.c2), styles.c2));
  series.push(lineSeries(p, zip(compWave, n.c1), styles.c1));
  series.push(lineSeries(p, zip(specWave, n.obs), styles.obs));
  series.push(lineSeries(p, zip(modelWave, n.model), styles.model));

  series.push({
    type: 'custom', xAxisIndex: 2 * p, yAxisIndex: 2 * p,
    data: yMinorTickValues.map(v => [X_MIN, v]),
    encode: { x: 0, y: 1 },
    renderItem: renderMinorTick,
    silent: true, animation: false, clip: false, z: 5
  });

  graphics.push({
    type: 'text', x: pn.left + 297, y: pn.top + 300, silent: true,
    style: {
      text: n.label, fill: '#000', fontSize: 17, fontFamily: FONT,
      align: 'right', verticalAlign: 'middle'
    }
  });
});

// axis titles
graphics.push({
  type: 'text', x: 589, y: 703, silent: true,
  style: {
    text: '\u03bb (\u00c5)', fill: '#000', fontSize: 20, fontFamily: FONT,
    fontStyle: 'italic', align: 'center', verticalAlign: 'middle'
  }
});
graphics.push({
  type: 'text', x: 18, y: 320, rotation: Math.PI / 2, silent: true,
  style: {
    text: '{n|\u03bb F}{sub|\u03bb}{n| (erg s}{sup|\u22121}{n| cm}{sup|\u22122}{n|)}',
    fill: '#000', align: 'center', verticalAlign: 'middle',
    rich: {
      n:   { fontSize: 20, fontFamily: FONT, fill: '#000', lineHeight: 24, verticalAlign: 'middle' },
      sub: { fontSize: 14, fontFamily: FONT, fill: '#000', lineHeight: 14, verticalAlign: 'bottom' },
      sup: { fontSize: 14, fontFamily: FONT, fill: '#000', lineHeight: 14, verticalAlign: 'top' }
    }
  }
});

const chart = echarts.init(document.getElementById('chart'), null, { renderer: 'canvas' });
chart.setOption({
  backgroundColor: '#ffffff',
  animation: false,
  grid: grids,
  xAxis: xAxes,
  yAxis: yAxes,
  series: series,
  graphic: graphics
});
</script>
</body>
</html>
